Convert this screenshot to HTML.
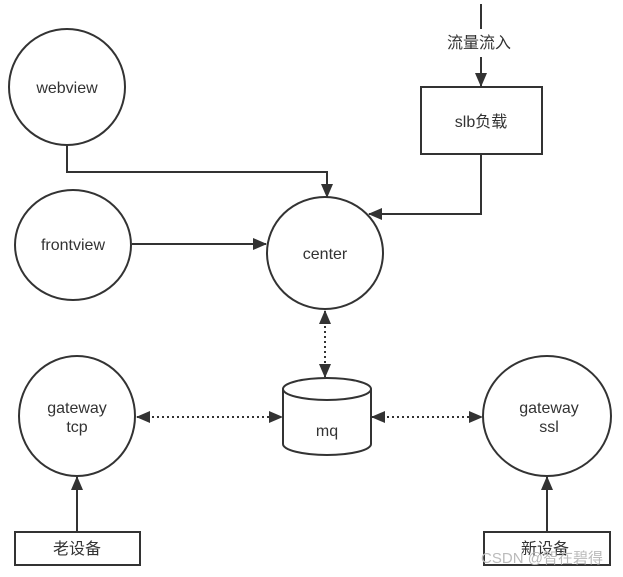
<!DOCTYPE html>
<html><head><meta charset="utf-8"><style>
html,body{margin:0;padding:0;background:#fff;}
svg{display:block;}
text{font-family:"Liberation Sans","Noto Sans CJK SC",sans-serif;font-size:16px;fill:#333;text-anchor:middle;}
</style></head><body>
<svg width="623" height="577" viewBox="0 0 623 577" xmlns="http://www.w3.org/2000/svg">
<defs>
<marker id="a" markerWidth="14" markerHeight="12" refX="13" refY="6" orient="auto-start-reverse" markerUnits="userSpaceOnUse">
<path d="M0,0 L14,6 L0,12 Z" fill="#333"/>
</marker>
</defs>
<g fill="none" stroke="#333" stroke-width="2">
<ellipse cx="67" cy="87" rx="58" ry="58"/>
<ellipse cx="73" cy="245" rx="58" ry="55"/>
<ellipse cx="325" cy="253" rx="58" ry="56"/>
<rect x="421" y="87" width="121" height="67"/>
<ellipse cx="77" cy="416" rx="58" ry="60"/>
<ellipse cx="547" cy="416" rx="64" ry="60"/>
<rect x="15" y="532" width="125" height="33"/>
<rect x="484" y="532" width="126" height="33"/>
<path d="M283,389 L283,444 A44,11 0 0 0 371,444 L371,389"/>
<ellipse cx="327" cy="389" rx="44" ry="11"/>
<line x1="481" y1="4" x2="481" y2="29"/>
<line x1="481" y1="57" x2="481" y2="86" marker-end="url(#a)"/>
<polyline points="67,145 67,172 327,172 327,197" marker-end="url(#a)"/>
<polyline points="481,154 481,214 369,214" marker-end="url(#a)"/>
<line x1="132" y1="244" x2="266" y2="244" marker-end="url(#a)"/>
<line x1="77" y1="532" x2="77" y2="477" marker-end="url(#a)"/>
<line x1="547" y1="532" x2="547" y2="477" marker-end="url(#a)"/>
<line x1="325" y1="311" x2="325" y2="377" stroke-dasharray="2,3" marker-start="url(#a)" marker-end="url(#a)"/>
<line x1="137" y1="417" x2="282" y2="417" stroke-dasharray="2,3" marker-start="url(#a)" marker-end="url(#a)"/>
<line x1="372" y1="417" x2="482" y2="417" stroke-dasharray="2,3" marker-start="url(#a)" marker-end="url(#a)"/>
</g>
<text x="67" y="93">webview</text>
<text x="73" y="250">frontview</text>
<text x="325" y="259">center</text>
<text x="481" y="127">slb负载</text>
<text x="479" y="48">流量流入</text>
<text x="77" y="413">gateway</text>
<text x="77" y="432">tcp</text>
<text x="549" y="413">gateway</text>
<text x="549" y="432">ssl</text>
<text x="327" y="436">mq</text>
<text x="77" y="554">老设备</text>
<text x="545" y="554">新设备</text>
<text x="542" y="563" style="fill:#bbb;font-size:15px">CSDN @智在碧得</text>
</svg>
</body></html>
